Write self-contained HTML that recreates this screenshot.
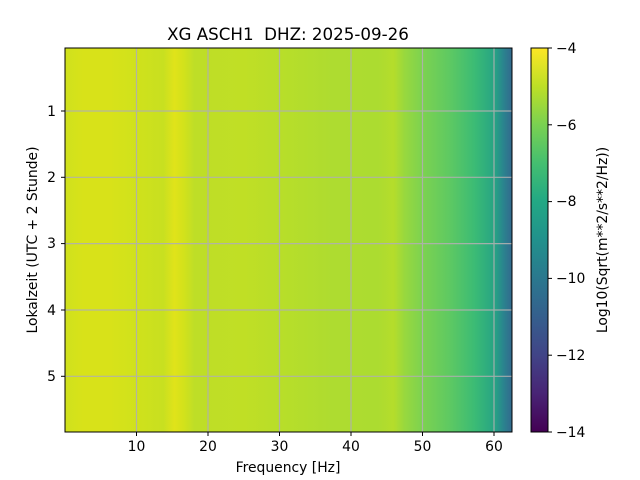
<!DOCTYPE html>
<html><head><meta charset="utf-8"><style>
body{margin:0;background:#fff;}
svg{display:block;font-family:"DejaVu Sans","Liberation Sans",sans-serif;}
</style></head><body>
<svg width="640" height="480" viewBox="0 0 640 480" xmlns="http://www.w3.org/2000/svg">
<defs>
<linearGradient id="spec" x1="65" x2="512" y1="0" y2="0" gradientUnits="userSpaceOnUse">
<stop offset="0" stop-color="#cfe11d"/>
<stop offset="0.04" stop-color="#d8e219"/>
<stop offset="0.1" stop-color="#d8e219"/>
<stop offset="0.18" stop-color="#cde11d"/>
<stop offset="0.22" stop-color="#c8e020"/>
<stop offset="0.245" stop-color="#e0e31a"/>
<stop offset="0.265" stop-color="#d3e21b"/>
<stop offset="0.29" stop-color="#bede27"/>
<stop offset="0.4" stop-color="#c0df25"/>
<stop offset="0.48" stop-color="#b8de29"/>
<stop offset="0.6" stop-color="#aedc30"/>
<stop offset="0.7" stop-color="#acdc30"/>
<stop offset="0.735" stop-color="#b5dd2b"/>
<stop offset="0.76" stop-color="#98d83e"/>
<stop offset="0.8" stop-color="#7cd250"/>
<stop offset="0.86" stop-color="#5ec962"/>
<stop offset="0.917" stop-color="#3bbb75"/>
<stop offset="0.962" stop-color="#26a384"/>
<stop offset="0.98" stop-color="#2a858e"/>
<stop offset="1" stop-color="#33698e"/>
</linearGradient>
<linearGradient id="cb" x1="0" x2="0" y1="432" y2="48" gradientUnits="userSpaceOnUse">
<stop offset="0" stop-color="#440154"/>
<stop offset="0.1" stop-color="#482475"/>
<stop offset="0.2" stop-color="#414487"/>
<stop offset="0.3" stop-color="#355f8d"/>
<stop offset="0.4" stop-color="#2a788e"/>
<stop offset="0.5" stop-color="#21918c"/>
<stop offset="0.6" stop-color="#22a884"/>
<stop offset="0.7" stop-color="#44bf70"/>
<stop offset="0.8" stop-color="#7ad151"/>
<stop offset="0.9" stop-color="#bddf26"/>
<stop offset="1" stop-color="#fde725"/>
</linearGradient>
</defs>
<text x="288" y="40" font-size="16.7" text-anchor="middle" xml:space="preserve" style="white-space:pre">XG ASCH1  DHZ: 2025-09-26</text>
<rect x="65" y="48" width="447" height="384" fill="url(#spec)"/>
<g stroke="#b0b0b0" stroke-width="1.2" opacity="0.9">
<line x1="136.5" y1="48" x2="136.5" y2="432"/>
<line x1="208" y1="48" x2="208" y2="432"/>
<line x1="279.5" y1="48" x2="279.5" y2="432"/>
<line x1="351" y1="48" x2="351" y2="432"/>
<line x1="422.5" y1="48" x2="422.5" y2="432"/>
<line x1="494" y1="48" x2="494" y2="432"/>
<line x1="65" y1="111" x2="512" y2="111"/>
<line x1="65" y1="177.3" x2="512" y2="177.3"/>
<line x1="65" y1="243.6" x2="512" y2="243.6"/>
<line x1="65" y1="310" x2="512" y2="310"/>
<line x1="65" y1="376.3" x2="512" y2="376.3"/>
</g>
<rect x="65" y="48" width="447" height="384" fill="none" stroke="#000" stroke-width="1"/>
<g stroke="#000" stroke-width="1">
<line x1="136.5" y1="432" x2="136.5" y2="436"/>
<line x1="208" y1="432" x2="208" y2="436"/>
<line x1="279.5" y1="432" x2="279.5" y2="436"/>
<line x1="351" y1="432" x2="351" y2="436"/>
<line x1="422.5" y1="432" x2="422.5" y2="436"/>
<line x1="494" y1="432" x2="494" y2="436"/>
<line x1="61" y1="111" x2="65" y2="111"/>
<line x1="61" y1="177.3" x2="65" y2="177.3"/>
<line x1="61" y1="243.6" x2="65" y2="243.6"/>
<line x1="61" y1="310" x2="65" y2="310"/>
<line x1="61" y1="376.3" x2="65" y2="376.3"/>
</g>
<g font-size="13.9" text-anchor="middle">
<text x="136.5" y="451">10</text><text x="208" y="451">20</text><text x="279.5" y="451">30</text>
<text x="351" y="451">40</text><text x="422.5" y="451">50</text><text x="494" y="451">60</text>
<text x="288" y="472">Frequency [Hz]</text>
</g>
<g font-size="13.9" text-anchor="end">
<text x="56" y="116">1</text><text x="56" y="182">2</text><text x="56" y="248">3</text>
<text x="56" y="315">4</text><text x="56" y="381">5</text>
</g>
<text x="37" y="240" font-size="13.9" text-anchor="middle" transform="rotate(-90 37 240)">Lokalzeit (UTC + 2 Stunde)</text>
<rect x="531" y="48" width="17" height="384" fill="url(#cb)" stroke="#000" stroke-width="1"/>
<g stroke="#000"><line x1="548" y1="48" x2="552" y2="48"/><line x1="548" y1="124.8" x2="552" y2="124.8"/>
<line x1="548" y1="201.6" x2="552" y2="201.6"/><line x1="548" y1="278.4" x2="552" y2="278.4"/>
<line x1="548" y1="355.2" x2="552" y2="355.2"/><line x1="548" y1="432" x2="552" y2="432"/></g>
<g font-size="13.9">
<text x="556" y="53">−4</text><text x="556" y="130">−6</text><text x="556" y="206">−8</text>
<text x="556" y="283">−10</text><text x="556" y="360">−12</text><text x="556" y="437">−14</text>
</g>
<text x="607" y="240" font-size="13.9" text-anchor="middle" transform="rotate(-90 607 240)">Log10(Sqrt(m**2/s**2/Hz))</text>
</svg>
</body></html>
